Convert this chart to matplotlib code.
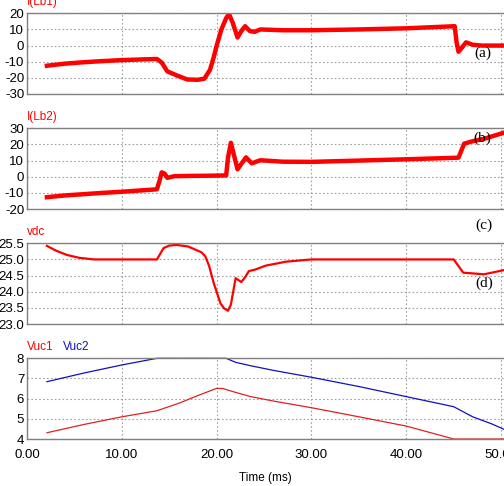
import matplotlib
matplotlib.use("Agg")
import matplotlib.pyplot as plt

plt.rcParams['font.family'] = ['Liberation Sans', 'DejaVu Sans']

# ---- data (time in ms) ----
t_lb1 = [2.1, 4.0, 6.0, 8.0, 10.0, 12.0, 13.7, 14.2, 14.8, 15.8, 16.9, 18.0, 18.7, 19.3, 19.7, 20.0, 20.5, 21.0, 21.3, 21.7, 22.2, 22.6, 23.0, 23.5, 24.0, 24.6, 27.0, 30.0, 35.0, 40.0, 45.1, 45.3, 45.5, 45.9, 46.3, 47.0, 48.0, 50.3]
i_lb1 = [-12.5, -11.2, -10.3, -9.6, -9.0, -8.6, -8.3, -10.5, -16.0, -18.5, -21.0, -21.2, -20.5, -15.0, -7.0, 0.0, 10.0, 17.0, 19.5, 14.0, 5.0, 9.0, 12.0, 9.0, 8.5, 10.0, 9.5, 9.5, 10.0, 10.7, 12.0, 2.0, -3.8, -1.0, 2.0, 0.5, 0.0, 0.0]

t_lb2 = [2.1, 4.0, 6.0, 8.0, 10.0, 12.0, 13.7, 14.0, 14.2, 14.5, 14.8, 15.5, 17.0, 19.0, 21.0, 21.2, 21.5, 21.8, 22.2, 22.6, 23.1, 23.7, 24.6, 27.0, 30.0, 35.0, 40.0, 45.5, 46.1, 47.0, 48.2, 50.3]
i_lb2 = [-12.7, -11.6, -10.8, -10.0, -9.3, -8.5, -7.8, -2.0, 2.7, 2.0, -0.7, 0.3, 0.5, 0.6, 0.8, 12.0, 21.0, 14.0, 4.6, 8.0, 12.0, 8.3, 10.2, 9.3, 9.2, 10.0, 10.8, 11.8, 20.5, 22.0, 23.5, 27.3]

t_vdc = [2.1, 3.0, 4.2, 5.5, 7.1, 10.0, 13.7, 14.4, 15.0, 15.8, 17.0, 18.4, 18.8, 19.2, 19.7, 20.4, 20.8, 21.2, 21.5, 22.0, 22.6, 23.0, 23.4, 24.0, 25.2, 27.3, 30.0, 35.0, 40.0, 45.0, 46.0, 48.2, 50.3]
v_dc = [25.42, 25.28, 25.14, 25.05, 25.0, 25.0, 25.0, 25.35, 25.43, 25.45, 25.40, 25.22, 25.1, 24.8, 24.26, 23.64, 23.48, 23.41, 23.6, 24.42, 24.30, 24.45, 24.64, 24.68, 24.81, 24.93, 25.0, 25.0, 25.0, 25.0, 24.59, 24.54, 24.67]

t_uc = [2.1, 6.0, 10.0, 13.7, 16.0, 18.0, 20.0, 20.7, 21.0, 22.0, 23.6, 26.0, 30.0, 35.0, 40.0, 45.0, 47.0, 49.0, 50.3]
v_uc2 = [6.84, 7.27, 7.67, 8.0, 8.0, 8.0, 8.0, 8.0, 8.0, 7.8, 7.63, 7.40, 7.06, 6.60, 6.10, 5.60, 5.10, 4.75, 4.48]
v_uc1 = [4.31, 4.72, 5.10, 5.40, 5.77, 6.15, 6.51, 6.50, 6.45, 6.31, 6.10, 5.88, 5.55, 5.10, 4.64, 4.0, 4.0, 4.0, 4.0]

xticks = [0, 10, 20, 30, 40, 50]
xticklabels = ["0.00", "10.00", "20.00", "30.00", "40.00", "50.00"]

RED = "#ff0000"
BLUE = "#1010c0"
GRAY = "#808080"

fig = plt.figure(figsize=(5.04, 4.86), dpi=100)

left = 27 / 504
width = 1 - left
h = 80.7 / 486
bottoms = [1 - 94 / 486, 1 - 209 / 486, 1 - 324 / 486, 1 - 439 / 486]

axes = [fig.add_axes([left, b, width, h]) for b in bottoms]

def style(ax, ylim, yticks, yfmt):
    ax.set_xlim(0, 50.3)
    ax.set_ylim(*ylim)
    ax.set_yticks(yticks)
    ax.set_yticklabels([yfmt.format(v) for v in yticks], fontsize=9.5)
    ax.set_xticks(xticks)
    ax.tick_params(axis='y', length=0, pad=2)
    ax.tick_params(axis='x', length=0, pad=7)
    ax.grid(True, color="#a0a0a0", linestyle=(0, (1.5, 2)), linewidth=0.8)
    for s in ax.spines.values():
        s.set_color(GRAY)
        s.set_linewidth(1.0)
    ax.spines['right'].set_visible(False)

TY = 1.065

ax = axes[0]
ax.plot(t_lb1, i_lb1, color=RED, lw=3.2, solid_joinstyle='round')
style(ax, (-30, 20), [-30, -20, -10, 0, 10, 20], "{:g}")
ax.set_xticklabels([])
ax.text(0, TY, "I(Lb1)", color=RED, fontsize=8.5, transform=ax.transAxes, ha='left', va='bottom')
ax.text(0.955, 0.51, "(a)", fontsize=11, family='Liberation Serif', transform=ax.transAxes, ha='center', va='center')

ax = axes[1]
ax.plot(t_lb2, i_lb2, color=RED, lw=3.2, solid_joinstyle='round')
style(ax, (-20, 30), [-20, -10, 0, 10, 20, 30], "{:g}")
ax.set_xticklabels([])
ax.text(0, TY, "I(Lb2)", color=RED, fontsize=8.5, transform=ax.transAxes, ha='left', va='bottom')
ax.text(0.955, 0.88, "(b)", fontsize=11, family='Liberation Serif', transform=ax.transAxes, ha='center', va='center')
ax.text(0.958, -0.20, "(c)", fontsize=11, family='Liberation Serif', transform=ax.transAxes, ha='center', va='center')

ax = axes[2]
ax.plot(t_vdc, v_dc, color=RED, lw=1.6, solid_joinstyle='round')
style(ax, (23.0, 25.5), [23.0, 23.5, 24.0, 24.5, 25.0, 25.5], "{:.1f}")
ax.set_xticklabels([])
ax.text(0, TY, "vdc", color=RED, fontsize=8.5, transform=ax.transAxes, ha='left', va='bottom')
ax.text(0.958, 0.51, "(d)", fontsize=11, family='Liberation Serif', transform=ax.transAxes, ha='center', va='center')

ax = axes[3]
ax.plot(t_uc, v_uc2, color=BLUE, lw=0.9, clip_on=False)
ax.plot(t_uc, v_uc1, color="#e02020", lw=0.9, clip_on=False)
style(ax, (4, 8), [4, 5, 6, 7, 8], "{:g}")
ax.set_xticklabels(xticklabels, fontsize=9.5)
ax.text(0, TY, "Vuc1", color=RED, fontsize=8.5, transform=ax.transAxes, ha='left', va='bottom')
ax.text(0.075, TY, "Vuc2", color=BLUE, fontsize=8.5, transform=ax.transAxes, ha='left', va='bottom')
ax.set_xlabel("Time (ms)", fontsize=8.5, labelpad=8)

fig.savefig("out.png", dpi=100)
